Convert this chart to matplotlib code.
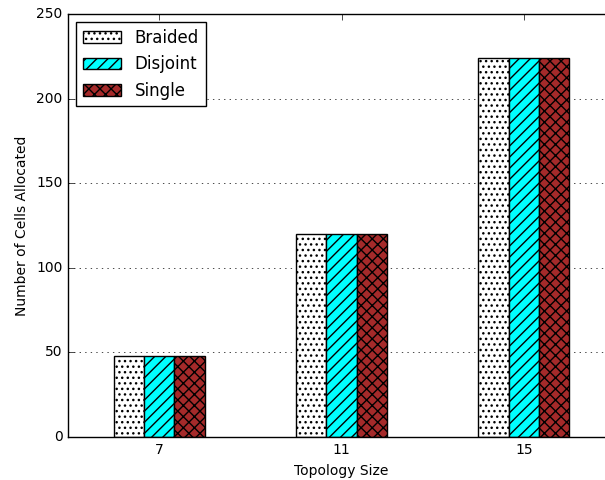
import numpy as np
import matplotlib
matplotlib.use("Agg")
from matplotlib import pyplot as plt

# data
sizes = ["7", "11", "15"]
braided = [48, 120, 224]
disjoint = [48, 120, 224]
single = [48, 120, 224]

plt.style.use("classic")
plt.rcParams["font.size"] = 10
plt.rcParams["hatch.linewidth"] = 1.0

fig = plt.figure(figsize=(6.05, 4.8), dpi=100, facecolor="white")
ax = fig.add_axes([68 / 605, 43 / 480, 547 / 605, 423 / 480])

x = np.arange(len(sizes))
w = 1 / 6.0
ax.bar(x - w, braided, w, color="white", hatch="...", edgecolor="black", label="Braided")
ax.bar(x, disjoint, w, color="cyan", hatch="///", edgecolor="black", label="Disjoint")
ax.bar(x + w, single, w, color="brown", hatch="xxx", edgecolor="black", label="Single")

ax.set_xlim(-0.5, 2.5)
ax.set_ylim(0, 250)
ax.set_xticks(x)
ax.set_xticklabels(sizes)
ax.set_xlabel("Topology Size")
ax.set_ylabel("Number of Cells Allocated")
ax.yaxis.grid(True, linestyle=":", color="black")
ax.set_axisbelow(True)
ax.legend(loc="upper left", fontsize=12, handlelength=2.3)

fig.savefig("out.png", dpi=100, facecolor="white")
